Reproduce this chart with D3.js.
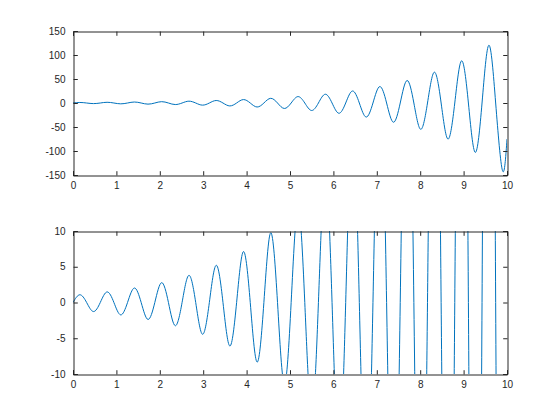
<!DOCTYPE html>
<html>
<head>
<meta charset="utf-8">
<script src="https://cdn.jsdelivr.net/npm/d3@7"></script>
<style>
  html, body { margin: 0; padding: 0; background: #fff; }
  svg { display: block; }
  text { font-family: "Liberation Sans", Arial, Helvetica, sans-serif; font-size: 10px; fill: #262626; }
</style>
</head>
<body>
<svg id="chart" width="560" height="420"></svg>
<script>
// Sample times (s): extrema and zero crossings
const tValues = [
  0, 0.1571, 0.3142, 0.4712, 0.6283, 0.7854, 0.9425, 1.0996, 1.2566, 1.4137,
  1.5708, 1.7279, 1.8850, 2.0420, 2.1991, 2.3562, 2.5133, 2.6704, 2.8274, 2.9845,
  3.1416, 3.2987, 3.4558, 3.6128, 3.7699, 3.9270, 4.0841, 4.2412, 4.3982, 4.5553,
  4.7124, 4.8695, 5.0265, 5.1836, 5.3407, 5.4978, 5.6549, 5.8119, 5.9690, 6.1261,
  6.2832, 6.4403, 6.5973, 6.7544, 6.9115, 7.0686, 7.2257, 7.3827, 7.5398, 7.6969,
  7.8540, 8.0111, 8.1681, 8.3252, 8.4823, 8.6394, 8.7965, 8.9535, 9.1106, 9.2677,
  9.4248, 9.5819, 9.7389, 9.8960, 10
];
// Signal values at those times
const yValues = [
  0, 1.082, 0, -1.266, 0, 1.481, 0, -1.733, 0, 2.028,
  0, -2.372, 0, 2.776, 0, -3.248, 0, 3.801, 0, -4.447,
  0, 5.203, 0, -6.088, 0, 7.124, 0, -8.336, 0, 9.754,
  0, -11.41, 0, 13.35, 0, -15.63, 0, 18.28, 0, -21.39,
  0, 25.03, 0, -29.29, 0, 34.27, 0, -40.10, 0, 46.92,
  0, -54.90, 0, 64.24, 0, -75.17, 0, 87.95, 0, -102.9,
  0, 120.4, 0, -140.9, -75.2
];
const xTicks = [0, 1, 2, 3, 4, 5, 6, 7, 8, 9, 10];
const yTicksTop = [-150, -100, -50, 0, 50, 100, 150];
const yTicksBottom = [-10, -5, 0, 5, 10];

const data = tValues.map((t, i) => ({ t, y: yValues[i] }));
const svg = d3.select("#chart");
const axisColor = "#262626";
const lineColor = "#0072BD";
const fmt = d => String(d);

const left = 73, right = 507;
const panels = [
  { top: 31, bottom: 175, domain: [-150, 150], ticks: yTicksTop, id: "c1" },
  { top: 231, bottom: 374, domain: [-10, 10], ticks: yTicksBottom, id: "c2" }
];

const defs = svg.append("defs");

panels.forEach(p => {
  const x = d3.scaleLinear().domain([0, 10]).range([left, right]);
  const y = d3.scaleLinear().domain(p.domain).range([p.bottom, p.top]);
  const g = svg.append("g");

  defs.append("clipPath").attr("id", p.id)
    .append("rect").attr("x", left).attr("y", p.top)
    .attr("width", right - left).attr("height", p.bottom - p.top);

  // data line
  const line = d3.line().x(d => x(d.t)).y(d => y(d.y)).curve(d3.curveNatural);
  g.append("path").datum(data)
    .attr("clip-path", `url(#${p.id})`)
    .attr("d", line)
    .attr("fill", "none")
    .attr("stroke", lineColor)
    .attr("stroke-width", 1);

  const tl = 4.3;
  const xb = g.append("g").attr("transform", `translate(0,${p.bottom + 0.5})`)
    .call(d3.axisBottom(x).tickValues(xTicks).tickSize(-tl).tickPadding(6).tickFormat(fmt));
  const xt = g.append("g").attr("transform", `translate(0,${p.top + 0.5})`)
    .call(d3.axisTop(x).tickValues(xTicks).tickSize(-tl).tickFormat(""));
  const yl = g.append("g").attr("transform", `translate(${left + 0.5},0)`)
    .call(d3.axisLeft(y).tickValues(p.ticks).tickSize(-tl).tickPadding(8).tickFormat(fmt));
  const yr = g.append("g").attr("transform", `translate(${right + 0.5},0)`)
    .call(d3.axisRight(y).tickValues(p.ticks).tickSize(-tl).tickFormat(""));

  [xb, xt, yl, yr].forEach(a => {
    a.select(".domain").attr("stroke", axisColor).attr("stroke-width", 1);
    a.selectAll(".tick line").attr("stroke", axisColor).attr("stroke-width", 1);
    a.selectAll(".tick text").attr("fill", axisColor)
      .style("font-family", '"Liberation Sans", Arial, Helvetica, sans-serif')
      .style("font-size", "10px");
    a.attr("font-family", null).attr("font-size", null);
  });
});
</script>
</body>
</html>
